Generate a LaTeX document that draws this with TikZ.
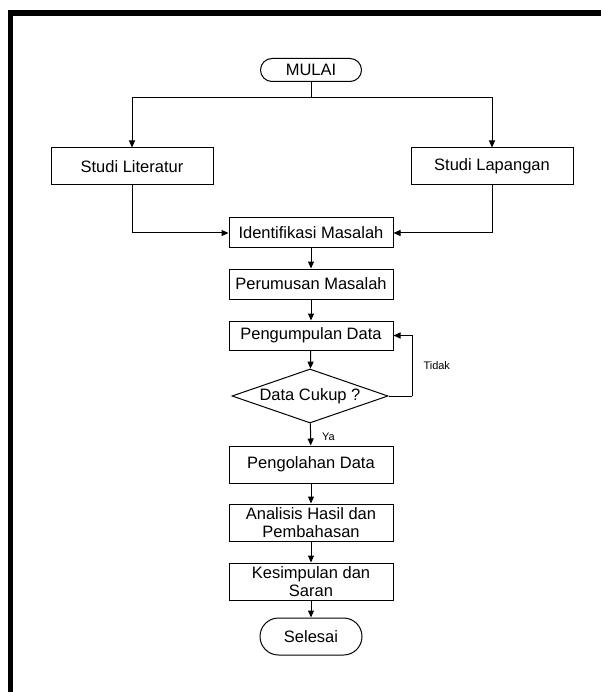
\documentclass[tikz,border=0pt]{standalone}
\usepackage{fontspec}
\setmainfont{Liberation Sans}
\usepackage{tikz}
\usetikzlibrary{shapes.geometric,arrows.meta}

\begin{document}
\begin{tikzpicture}[x=1pt,y=-1pt]
					\tikzstyle{every node}=[font=\fontsize{16.5}{18}\selectfont]
					\tikzstyle{proses}=[draw,rectangle,line width=1pt,minimum width=164pt,minimum height=30pt,inner sep=0pt,align=center]
					\tikzstyle{terminal}=[draw,rectangle,line width=1pt,inner sep=0pt]
					\tikzstyle{keputusan}=[draw,diamond,line width=1pt,minimum width=156pt,minimum height=54pt,shape aspect=2.9,inner sep=0pt]
					\tikzstyle{garis}=[line width=1pt]
					\tikzstyle{panah}=[line width=1pt,-{Triangle[length=7pt,width=6pt]}]
					\tikzstyle{ket}=[font=\fontsize{11}{12}\selectfont,inner sep=0pt]

					\useasboundingbox (0,0) rectangle (601,692);
					\draw[line width=5.5pt] (10.5,700) -- (10.5,13) -- (610,13);

					\node[terminal,minimum width=101pt,minimum height=23pt,rounded corners=11.5pt] (mulai) at (311,70) {MULAI};
					\coordinate (cabang) at (311,98);
					\node[proses,minimum width=162pt,minimum height=37pt] (literatur) at (132,166.5) {Studi Literatur};
					\node[proses,minimum width=162pt,minimum height=37pt] (lapangan) at (492,166.5) {Studi Lapangan};
					\node[proses] (identifikasi) at (311,233) {Identifikasi Masalah};
					\node[proses] (perumusan) at (311,284) {Perumusan Masalah};
					\node[proses,minimum height=29pt] (pengumpulan) at (311,335.5) {Pengumpulan Data};
					\node[keputusan] (cukup) at (310,396) {Data Cukup ?};
					\coordinate (balik) at (412,396);
					\node[proses,minimum height=37pt] (pengolahan) at (311,464.5) {Pengolahan Data};
					\node[proses,minimum height=37pt] (analisis) at (311,522.5) {Analisis Hasil dan\\Pembahasan};
					\node[proses,minimum height=37pt] (kesimpulan) at (311,581.5) {Kesimpulan dan\\Saran};
					\node[terminal,minimum width=102pt,minimum height=37pt,rounded corners=18.5pt] (selesai) at (311,636.5) {Selesai};

					\draw[garis] (mulai) -- (cabang);
					\draw[panah] (cabang) -| (literatur);
					\draw[panah] (cabang) -| (lapangan);
					\draw[panah] (literatur) |- (identifikasi);
					\draw[panah] (lapangan) |- (identifikasi);
					\draw[panah] (identifikasi) -- (perumusan);
					\draw[panah] (perumusan) -- (pengumpulan);
					\draw[panah] (pengumpulan) -- (cukup);
					\draw[garis] (cukup) -- (balik);
					\draw[panah] (balik) |- node[ket,pos=0.25,right,xshift=11pt] {Tidak} (pengumpulan);
					\draw[panah] (cukup) -- node[ket,pos=0.6,right,xshift=11pt] {Ya} (pengolahan);
					\draw[panah] (pengolahan) -- (analisis);
					\draw[panah] (analisis) -- (kesimpulan);
					\draw[panah] (kesimpulan) -- (selesai);
\end{tikzpicture}
\end{document}
